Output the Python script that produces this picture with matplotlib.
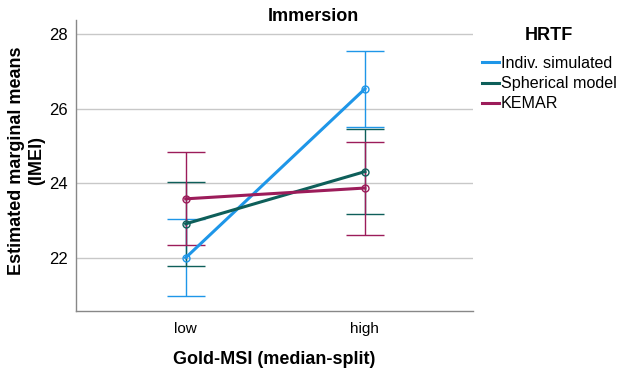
import numpy as np
import matplotlib
matplotlib.use("Agg")
import matplotlib.pyplot as plt

# ==========================
# data
# ==========================
groups = ["low", "high"]
series = ["Indiv. simulated", "Spherical model", "KEMAR"]
colors = ["#1e96e8", "#0e5f5a", "#9c1c5a"]

means = {
    "Indiv. simulated": [22.00, 26.53],
    "Spherical model": [22.91, 24.31],
    "KEMAR": [23.58, 23.87],
}
ci_low = {
    "Indiv. simulated": [20.97, 25.50],
    "Spherical model": [21.78, 23.18],
    "KEMAR": [22.34, 22.62],
}
ci_high = {
    "Indiv. simulated": [23.03, 27.55],
    "Spherical model": [24.04, 25.44],
    "KEMAR": [24.83, 25.11],
}
yticks = [22, 24, 26, 28]

plt.rcParams["font.family"] = ["Liberation Sans", "DejaVu Sans"]

fig = plt.figure(figsize=(6.19, 3.70), dpi=100)
ax = fig.add_axes([0.1228, 0.1603, 0.641, 0.786])

x = np.arange(len(groups))
for name, c in zip(series, colors):
    m = np.array(means[name])
    lo = m - np.array(ci_low[name])
    hi = np.array(ci_high[name]) - m
    ax.errorbar(x, m, yerr=[lo, hi], fmt="none", ecolor=c, elinewidth=1,
                capsize=14, capthick=1, zorder=2)
    ax.plot(x, m, color=c, linewidth=2.2, label=name, zorder=3)
    ax.plot(x, m, "o", markersize=5, markerfacecolor="none",
            markeredgecolor=c, markeredgewidth=1, zorder=4)

ax.set_xlim(-0.612, 1.602)
ax.set_ylim(20.58, 28.38)
ax.set_xticks(x)
ax.set_xticklabels(groups, fontsize=11)
ax.set_yticks(yticks)
ax.set_yticklabels([str(t) for t in yticks], fontsize=12)
ax.tick_params(length=0, pad=6)
ax.tick_params(axis="x", pad=8)
ax.yaxis.grid(True, color="#c8c8c8", linewidth=1)
ax.set_axisbelow(True)
for s in ["top", "right"]:
    ax.spines[s].set_visible(False)
for s in ["left", "bottom"]:
    ax.spines[s].set_color("#888888")
    ax.spines[s].set_linewidth(1)

ax.set_ylabel("Estimated marginal means\n(IMEI)", fontsize=13, fontweight="bold",
              linespacing=1.25)
ax.yaxis.set_label_coords(-0.078, 0.517)
ax.set_xlabel("Gold-MSI (median-split)", fontsize=13, fontweight="bold", labelpad=11)
fig.text(0.506, 0.955, "Immersion", ha="center", va="center", fontsize=13,
         fontweight="bold")

# legend title drawn separately to get the larger gap
fig.text(0.886, 0.903, "HRTF", ha="center", va="center", fontsize=13,
         fontweight="bold")
leg = ax.legend(loc="upper left", bbox_to_anchor=(0.779, 1 - 56 / 370),
                bbox_transform=fig.transFigure, frameon=False,
                fontsize=11.6, handlelength=1.05, handletextpad=0.12,
                labelspacing=0.32, borderpad=0, borderaxespad=0)

fig.savefig("out.png", dpi=100)
